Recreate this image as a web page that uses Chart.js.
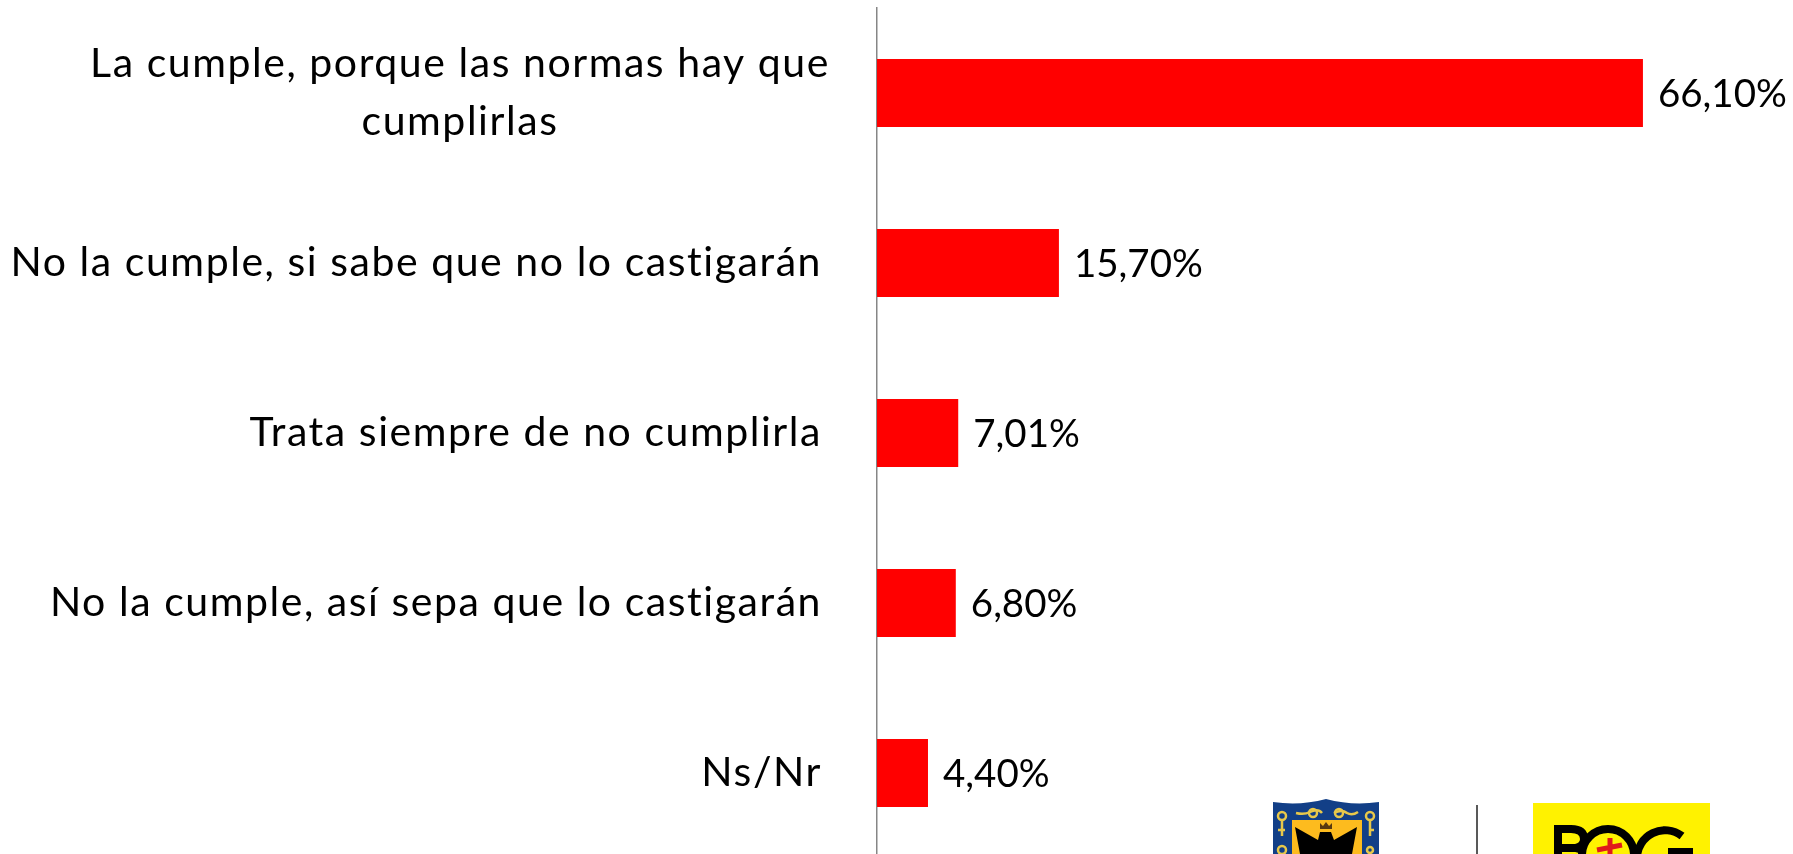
<!DOCTYPE html>
<html><head><meta charset="utf-8">
<style>
html,body{margin:0;padding:0;background:#fff;width:1793px;height:854px;overflow:hidden}
#wrap{position:absolute;left:0;top:0;width:1793px;height:858px}
svg{position:absolute;left:0;top:0}
</style>
<script src="https://cdn.jsdelivr.net/npm/chart.js@4"></script>
</head><body>
<div id="wrap"><canvas id="c" width="1793" height="858"></canvas></div>
<svg width="1793" height="854" aria-hidden="true">
  <path d="M1273 802 Q1300 806 1326 799 Q1352 806 1379 802 V854 H1273 Z" fill="#123f87"/>
  <g fill="none" stroke="#e8c84a" stroke-width="2.5">
    <path d="M1296 813 Q1304 815 1310 812 Q1318 808 1322 813 M1334 813 Q1342 809 1347 813 Q1352 816 1358 812"/>
    <circle cx="1313" cy="813" r="4"/><circle cx="1339" cy="813" r="4"/>
    <circle cx="1282" cy="816" r="4"/><path d="M1282 820 V836 M1278 830 H1285"/>
    <circle cx="1370" cy="816" r="4"/><path d="M1370 820 V836 M1370 830 H1374"/>
    <circle cx="1282" cy="850" r="4"/><circle cx="1370" cy="850" r="3"/>
  </g>
  <rect x="1292" y="820" width="70" height="34" fill="#fdbb1e"/>
  <path d="M1295 827 L1318 840 L1320 832 L1331 832 L1334 840 L1357 827 L1352 854 H1300 Z" fill="#000"/>
  <path d="M1320 829 L1320 823 L1323 826 L1326 822 L1329 826 L1332 823 L1332 829 Z" fill="#5a3a10"/>
  <line x1="1477" y1="805" x2="1477" y2="854" stroke="#222" stroke-width="1.5"/>
  <rect x="1533" y="803" width="177" height="51" fill="#fff200"/>
  <path d="M1558 858 V829 H1571 Q1584 829 1584 839 Q1584 846 1576 848 M1558 848 H1576 Q1586 850 1586 858" fill="none" stroke="#000" stroke-width="8"/>
  <circle cx="1608" cy="855" r="26" fill="#fff200" stroke="#000" stroke-width="8"/>
  <path d="M1610 838 V854 M1597 850 L1622 845" stroke="#e01b1b" stroke-width="5"/>
  <path d="M1682 836 A28 28 0 0 0 1637 858" fill="none" stroke="#000" stroke-width="8"/>
  <rect x="1668" y="848" width="25" height="6" fill="#000"/>
</svg>
<script>
const categories = [
  ["La cumple, porque las normas hay que", "cumplirlas"],
  "No la cumple, si sabe que no lo castigarán",
  "Trata siempre de no cumplirla",
  "No la cumple, así sepa que lo castigarán",
  "Ns/Nr"
];
const values = [66.10, 15.70, 7.01, 6.80, 4.40];
const FONT = 'Lato,sans-serif';
const TICK_SIZE = 41;
const VALUE_SIZE = 38.5;

const valueLabels = {
  id: 'valueLabels',
  beforeDatasetsDraw(chart) { chart.ctx.letterSpacing = '0px'; },
  afterDatasetsDraw(chart) {
    const ctx = chart.ctx, meta = chart.getDatasetMeta(0);
    ctx.save();
    ctx.font = VALUE_SIZE + 'px ' + FONT;
    ctx.fillStyle = '#000';
    ctx.textAlign = 'left';
    ctx.textBaseline = 'middle';
    meta.data.forEach((el, i) => {
      ctx.fillText(values[i].toFixed(2).replace('.', ',') + '%', el.x + 15, el.y + 2);
    });
    ctx.restore();
  }
};
const tickStyle = {
  id: 'tickStyle',
  beforeDraw(chart) {
    chart.ctx.letterSpacing = '1.55px';
    const first = chart.scales.y.getLabelItems(chart.chartArea)[0];
    if (first && !first.options._moved) {
      first.options.textAlign = 'center';
      first.options.translation = [first.options.translation[0] - 362, first.options.translation[1]];
      first.options._moved = true;
    }
  }
};
new Chart(document.getElementById('c'), {
  type: 'bar',
  data: { labels: categories, datasets: [{ data: values, backgroundColor: '#ff0000', borderWidth: 0, categoryPercentage: 1, barPercentage: 0.4 }] },
  plugins: [valueLabels, tickStyle],
  options: {
    indexAxis: 'y', responsive: false, animation: false,
    layout: { padding: { left: 0, right: 0, top: 8, bottom: 0 } },
    plugins: { legend: { display: false }, tooltip: { enabled: false } },
    scales: {
      x: { display: false, min: 0, max: 79.05, grid: { display: false } },
      y: {
        afterFit(s) { s.width = 877; s.paddingTop = 0; s.paddingBottom = 0; },
        border: { display: true, color: '#868686', width: 1.5 },
        grid: { display: false, drawTicks: false },
        ticks: { color: '#000', padding: 55, font: { family: FONT, size: TICK_SIZE, lineHeight: 1.42 }, autoSkip: false, maxRotation: 0, minRotation: 0 }
      }
    }
  }
});
</script>
</body></html>
